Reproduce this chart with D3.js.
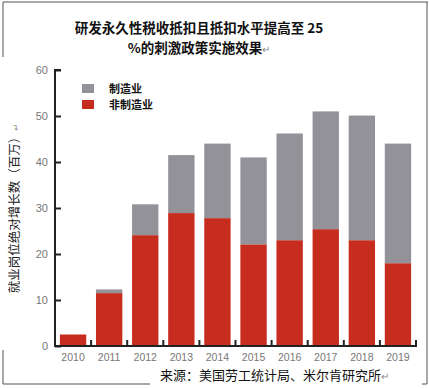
<!DOCTYPE html>
<html><head><meta charset="utf-8">
<script src="https://cdn.jsdelivr.net/npm/d3@7/dist/d3.min.js"></script>
<style>body{margin:0;background:#fff}svg{display:block}</style>
</head><body>
<script>
const years = ["2010","2011","2012","2013","2014","2015","2016","2017","2018","2019"];
const nonManufacturing = [2.5, 11.5, 24.1, 28.9, 27.8, 22.1, 23.0, 25.4, 23.0, 18.0];
const manufacturing = [0, 0.8, 6.7, 12.6, 16.2, 18.9, 23.2, 25.6, 27.1, 26.0];
const yTicks = [0, 10, 20, 30, 40, 50, 60];
const seriesNames = ["制造业", "非制造业"];
const colors = {mfg: "#939298", non: "#c62d1f"};

const W = 429, H = 388;
const svg = d3.select("body").append("svg").attr("width", W).attr("height", H);

// frame
const fr = "#555";
const frame = [[3,2,428,2],[3,2,3,57],[3,350,3,384],[3,384,150,384],[427,2,427,384],[422,384,427,384]];
frame.forEach(l => svg.append("line").attr("x1",l[0]).attr("y1",l[1]).attr("x2",l[2]).attr("y2",l[3]).attr("stroke",fr).attr("stroke-width",1));

// title
const tf = "'Noto Sans CJK SC', sans-serif";
svg.append("text").attr("x",199).attr("y",33).attr("text-anchor","middle").attr("font-family",tf).attr("font-weight","bold").attr("font-size",13.5).attr("fill","#111").text("研发永久性税收抵扣且抵扣水平提高至 25");
const t2 = svg.append("text").attr("x",199).attr("y",53).attr("text-anchor","middle").attr("font-family",tf).attr("font-weight","bold").attr("font-size",13.5).attr("fill","#111");
t2.append("tspan").text("%的刺激政策实施效果");
t2.append("tspan").attr("font-weight","normal").attr("font-size",10).attr("fill","#888").text("↵");

const x = d3.scaleBand().domain(years).range([55, 416]).paddingInner(0.27).paddingOuter(0.135);
const y = d3.scaleLinear().domain([0, 60]).range([346, 70]);

// bars
const g = svg.append("g");
years.forEach((yr, i) => {
  g.append("rect").attr("x", x(yr)).attr("width", x.bandwidth())
    .attr("y", y(nonManufacturing[i])).attr("height", y(0) - y(nonManufacturing[i])).attr("fill", colors.non);
  if (manufacturing[i] > 0)
    g.append("rect").attr("x", x(yr)).attr("width", x.bandwidth())
      .attr("y", y(nonManufacturing[i] + manufacturing[i])).attr("height", y(nonManufacturing[i]) - y(nonManufacturing[i] + manufacturing[i])).attr("fill", colors.mfg);
});

// y axis
const yAxis = svg.append("g").attr("transform","translate(55,0)")
  .call(d3.axisRight(y).tickValues(yTicks).tickSize(6).tickFormat(""));
yAxis.select(".domain").attr("stroke","#222").attr("stroke-width",2).attr("d","M6,70H0V346");
yAxis.selectAll(".tick line").attr("stroke","#222").attr("stroke-width",2);
yTicks.forEach(v => svg.append("text").attr("x",48).attr("y",y(v)+4).attr("text-anchor","end")
  .attr("font-family","'Liberation Sans', Arial, sans-serif").attr("font-size",11).attr("fill","#777").text(v));

// x axis
const bounds = years.map(yr => x(yr) - x.step()*x.paddingInner()/2).slice(1).concat([416]);
svg.append("line").attr("x1",54).attr("x2",417).attr("y1",y(0)).attr("y2",y(0)).attr("stroke","#222").attr("stroke-width",2);
bounds.forEach(b => svg.append("line").attr("x1",b).attr("x2",b).attr("y1",y(0)).attr("y2",y(0)-6).attr("stroke","#222").attr("stroke-width",2));
years.forEach(yr => svg.append("text").attr("x", x(yr)+x.bandwidth()/2).attr("y",361).attr("text-anchor","middle")
  .attr("font-family","'Liberation Sans', Arial, sans-serif").attr("font-size",10.5).attr("fill","#777").text(yr));

// y label
const yl = svg.append("text").attr("transform","translate(19,208) rotate(-90)").attr("text-anchor","middle")
  .attr("font-family",tf).attr("font-size",12.5).attr("fill","#222");
yl.append("tspan").text("就业岗位绝对增长数（百万）");
yl.append("tspan").attr("fill","#999").attr("font-size",9).text("↵");

// legend
const leg = [[seriesNames[0], colors.mfg, 84], [seriesNames[1], colors.non, 100]];
leg.forEach(([n,c,yy]) => {
  svg.append("rect").attr("x",82).attr("y",yy).attr("width",12).attr("height",9).attr("fill",c);
  svg.append("text").attr("x",109).attr("y",yy+8.5).attr("font-family",tf).attr("font-weight","bold").attr("font-size",11).attr("fill","#111").text(n);
});

// source
const src = svg.append("text").attr("x",160).attr("y",380).attr("font-family",tf).attr("font-size",13).attr("fill","#111");
src.append("tspan").text("来源：美国劳工统计局、米尔肯研究所");
src.append("tspan").attr("fill","#888").attr("font-size",10).text("↵");
</script>
</body></html>
